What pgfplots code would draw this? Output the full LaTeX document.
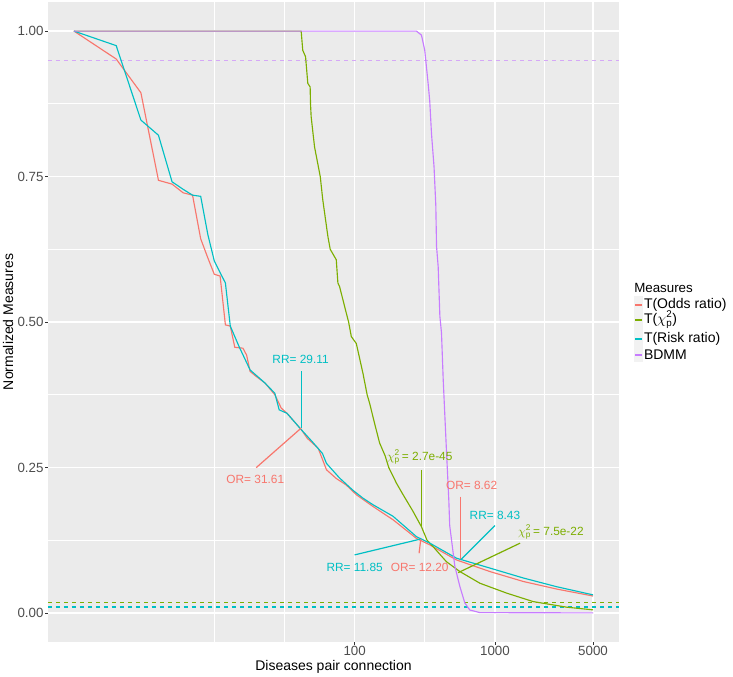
\documentclass[border=0pt]{standalone}
\usepackage{fontspec}
\setmainfont{Liberation Sans}
\usepackage{amsmath}
\usepackage{pgfplots}
\pgfplotsset{compat=1.18}
\definecolor{orC}{HTML}{F8766D}
\definecolor{chiC}{HTML}{7CAE00}
\definecolor{rrC}{HTML}{00BFC4}
\definecolor{bdC}{HTML}{C77CFF}
\definecolor{panel}{HTML}{EBEBEB}
\definecolor{keybg}{HTML}{F2F2F2}
\definecolor{tickC}{HTML}{4D4D4D}
\newcommand{\chip}{$\chi^{\text{2}}_{\text{p}}$}

\begin{document}
\begin{tikzpicture}
\begin{axis}[
    scale only axis,
    width=428.25pt, height=480pt,
    xmode=log,
    xmin=0.6532, xmax=7654, ymin=-0.05, ymax=1.05,
    axis background/.style={fill=panel},
    axis line style={draw=none},
    tick pos=left,
    tick align=outside,
    xtick={100,1000,5000}, xticklabels={100,1000,5000},
    ytick={0,0.25,0.5,0.75,1}, yticklabels={0.00,0.25,0.50,0.75,1.00},
    minor xtick={10,31.62,316.2,2236},
    minor ytick={0.125,0.375,0.625,0.875},
    grid=both,
    major grid style={white, line width=1.1pt},
    minor grid style={white, line width=0.55pt},
    major tick length=2.2pt, minor tick length=0pt,
    tick style={color=black!80, line width=0.6pt},
    ticklabel style={font=\fontsize{10}{12}\selectfont, text=tickC},
    yticklabel style={inner sep=1pt},
    xticklabel style={inner sep=1pt},
    every axis plot/.append style={line width=0.85pt},
    clip=true,
]
\coordinate (o) at (rel axis cs:0,0);
\coordinate (lm) at (rel axis cs:0,0.5);
\coordinate (bm) at (rel axis cs:0.5,0);

% threshold lines
\addplot[bdC!60!panel, line width=0.9pt, dash pattern=on 3pt off 3pt] coordinates {(0.6532,0.95) (7654,0.95)};
\addplot[chiC, line width=0.9pt, dash pattern=on 3pt off 3pt] coordinates {(0.6532,0.018) (7654,0.018)};
\addplot[orC, line width=0.9pt, dash pattern=on 3pt off 3pt] coordinates {(0.6532,0.010) (7654,0.010)};
\addplot[rrC, line width=0.9pt, dash pattern=on 3pt off 3pt] coordinates {(0.6532,0.010) (7654,0.010)};

% T(Odds ratio)
\addplot[orC] coordinates {
(1,1) (2,0.952) (3,0.894) (4,0.7435) (5,0.737) (6,0.722) (7,0.718) (8,0.643)
(9,0.61) (10,0.582) (11,0.579) (12,0.495) (13,0.493) (14,0.4565) (16,0.455)
(17,0.443) (18,0.415) (20,0.406) (23,0.395) (27,0.375) (30,0.352) (33,0.343)
(42,0.314) (46,0.300) (55,0.283) (63,0.246) (74,0.231) (87,0.220) (103,0.203)
(135,0.183) (188,0.160) (276,0.128) (343,0.117) (532,0.091) (922,0.071)
(1592,0.054) (2752,0.041) (5000,0.029)};

% T(chi2_p)
\addplot[chiC] coordinates {
(1,1) (41.6,1) (42.7,0.967) (44.7,0.956) (46.4,0.91) (48.2,0.904) (48.5,0.875)
(49,0.853) (51.8,0.801) (56.9,0.75) (59.3,0.71) (64.5,0.647) (67,0.625) (74,0.607)
(76,0.567) (78.1,0.561) (87.3,0.515) (90.6,0.5) (94.7,0.475) (102.8,0.463)
(114.6,0.412) (122.8,0.375) (128,0.36) (139,0.325) (150.7,0.292) (165,0.27)
(175,0.25) (198.6,0.223) (221.7,0.203) (260,0.175) (299.5,0.148) (328,0.125)
(362,0.114) (451,0.088) (563,0.071) (781,0.051) (1212,0.034) (1875,0.0194)
(3254,0.0098) (5000,0.0052)};

% T(Risk ratio)
\addplot[rrC] coordinates {
(1,1) (2,0.975) (3,0.847) (4,0.821) (5,0.741) (6,0.728) (7,0.718) (8,0.716)
(9,0.65) (10,0.605) (11,0.585) (12,0.567) (13,0.493) (15,0.458) (18,0.4175)
(23,0.395) (27,0.3775) (29,0.349) (33,0.343) (42,0.314) (50,0.294) (59,0.274)
(63,0.257) (78,0.232) (97,0.211) (115,0.197) (135,0.186) (188,0.166) (276,0.131)
(343,0.120) (532,0.094) (922,0.077) (1592,0.060) (2752,0.045) (5000,0.031)};

% BDMM
\addplot[bdC] coordinates {
(1,1) (275.6,1) (299.5,0.993) (316,0.967) (334,0.91) (343,0.88) (353,0.824)
(368,0.767) (379,0.70) (383.5,0.63) (394,0.595) (405,0.51) (416,0.481) (428,0.4)
(451,0.28) (469,0.194) (476,0.15) (518,0.08) (563,0.045) (610,0.017) (662,0.005)
(781,0.0005) (5000,0)};

% labels
\begin{scope}[font=\fontsize{8.9}{10}\selectfont, line width=0.9pt]
\node[text=rrC] at (axis cs:41.2,0.436) {RR= 29.11};
\draw[color=rrC] (axis cs:41.6,0.415) -- (axis cs:41.6,0.3174);
\node[text=orC] at (axis cs:19.6,0.2297) {OR= 31.61};
\draw[color=orC] (axis cs:19.9,0.2497) -- (axis cs:41.5,0.3174);
\node[text=chiC] at (axis cs:291,0.2675) {\chip\,= 2.7e-45};
\draw[color=chiC] (axis cs:299.5,0.2457) -- (axis cs:299.5,0.1483);
\node[text=rrC] at (axis cs:100,0.079) {RR= 11.85};
\draw[color=rrC] (axis cs:100,0.0997) -- (axis cs:291,0.1266);
\node[text=orC] at (axis cs:291,0.0778) {OR= 12.20};
\draw[color=orC] (axis cs:288,0.1026) -- (axis cs:296,0.1266);
\node[text=orC] at (axis cs:682,0.2187) {OR= 8.62};
\draw[color=orC] (axis cs:568.7,0.1998) -- (axis cs:568.7,0.0911);
\node[text=rrC] at (axis cs:1000,0.1684) {RR= 8.43};
\draw[color=rrC] (axis cs:1000,0.15) -- (axis cs:568.7,0.0911);
\node[text=chiC] at (axis cs:2506,0.1397) {\chip\,= 7.5e-22};
\draw[color=chiC] (axis cs:1509,0.1198) -- (axis cs:547,0.0692);
\end{scope}
\end{axis}

% axis titles
\node[font=\fontsize{10.5}{12}\selectfont] at ([yshift=-18.5pt]bm) {Diseases pair connection};
\node[font=\fontsize{10.5}{12}\selectfont, rotate=90] at ([xshift=-30pt]lm) {Normalized Measures};

% legend
\node[anchor=west, inner sep=0pt, font=\fontsize{10}{12}\selectfont] at ([shift={(439.5pt,265.5pt)}]o) {Measures};
\fill[keybg] ([shift={(439.5pt,210pt)}]o) rectangle ([shift={(446.25pt,259.5pt)}]o);
\draw[color=orC, line width=1pt] ([shift={(440.25pt,252.75pt)}]o) -- ([shift={(445.5pt,252.75pt)}]o);
\draw[color=chiC, line width=1pt] ([shift={(440.25pt,241.5pt)}]o) -- ([shift={(445.5pt,241.5pt)}]o);
\draw[color=rrC, line width=1pt] ([shift={(440.25pt,227.25pt)}]o) -- ([shift={(445.5pt,227.25pt)}]o);
\draw[color=bdC, line width=1pt] ([shift={(440.25pt,215.25pt)}]o) -- ([shift={(445.5pt,215.25pt)}]o);
\begin{scope}[every node/.style={anchor=west, inner sep=0pt, font=\fontsize{10.5}{12}\selectfont}]
\node at ([shift={(446.8pt,252.75pt)}]o) {T(Odds ratio)};
\node at ([shift={(446.8pt,241.5pt)}]o) {T(\chip)};
\node at ([shift={(446.8pt,227.25pt)}]o) {T(Risk ratio)};
\node at ([shift={(446.8pt,215.25pt)}]o) {BDMM};
\end{scope}

\pgfresetboundingbox
\useasboundingbox ([shift={(-36pt,-26.25pt)}]o) rectangle ([shift={(513.75pt,481.5pt)}]o);
\end{tikzpicture}
\end{document}
